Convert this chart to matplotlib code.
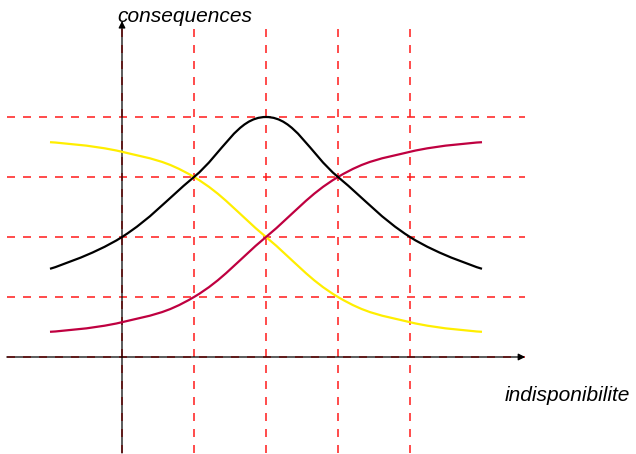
import numpy as np
import matplotlib.pyplot as plt
from matplotlib.path import Path
from matplotlib.patches import PathPatch

plt.rcParams['font.family'] = ['Liberation Sans', 'DejaVu Sans']
plt.rcParams['lines.scale_dashes'] = False

# curve knots (smooth line drawn through them)
xs = [-1, 0, 1, 2, 3, 4, 5]
black_y = [1.47, 2.0, 3.0, 4.0, 3.0, 2.0, 1.47]
purple_y = [0.42, 0.58, 1.0, 2.0, 3.0, 3.42, 3.58]
yellow_y = [3.58, 3.42, 3.0, 2.0, 1.0, 0.58, 0.42]

grid_x = [0, 1, 2, 3, 4]
grid_y = [0, 1, 2, 3, 4]
lo, hi = -1.6, 5.6

x_label = 'indisponibilite'
y_label = 'consequences'


def smooth_path(x, y, tension=0.2):
    # cubic bezier through the knots, tangents from neighbouring knots
    pts = np.column_stack([x, y]).astype(float)
    n = len(pts)
    verts = [pts[0]]
    codes = [Path.MOVETO]
    for i in range(n - 1):
        p0, p1 = pts[i], pts[i + 1]
        d0 = pts[i + 1] - pts[i - 1] if i > 0 else np.zeros(2)
        d1 = pts[i + 2] - pts[i] if i + 2 < n else np.zeros(2)
        verts += [p0 + tension * d0, p1 - tension * d1, p1]
        codes += [Path.CURVE4] * 3
    return Path(verts, codes)


fig = plt.figure(figsize=(6.36, 4.54), dpi=100)
ax = fig.add_axes([0, 0, 1, 1])
ax.set_xlim(-122 / 72, (636 - 122) / 72)
ax.set_ylim((357 - 454) / 60, 357 / 60)
ax.axis('off')

# dashed red grid
dash = (0, (5.76, 5.76))
for gx in grid_x:
    ax.plot([gx, gx], [lo, hi], color='#ff1a1a', lw=1.1, ls=dash, zorder=1)
for gy in grid_y:
    ax.plot([lo, hi], [gy, gy], color='#ff1a1a', lw=1.1, ls=dash, zorder=1)

# axes with arrow heads
arrow = dict(arrowstyle='-|>', color='black', lw=0.9, mutation_scale=10,
             shrinkA=0, shrinkB=0)
ax.annotate('', xy=(hi, 0), xytext=(lo, 0), arrowprops=arrow, zorder=2)
ax.annotate('', xy=(0, hi), xytext=(0, lo), arrowprops=arrow, zorder=2)

for yv, col in [(yellow_y, '#ffee00'), (purple_y, '#bf0040'), (black_y, 'black')]:
    ax.add_patch(PathPatch(smooth_path(xs, yv), fill=False, edgecolor=col,
                           lw=1.6, zorder=3, capstyle='butt'))

ax.text(-0.06, 5.58, y_label, fontsize=15, style='italic',
        ha='left', va='baseline')
ax.text(5.32, -0.73, x_label, fontsize=15, style='italic',
        ha='left', va='baseline')

fig.savefig('out.png', dpi=100)
